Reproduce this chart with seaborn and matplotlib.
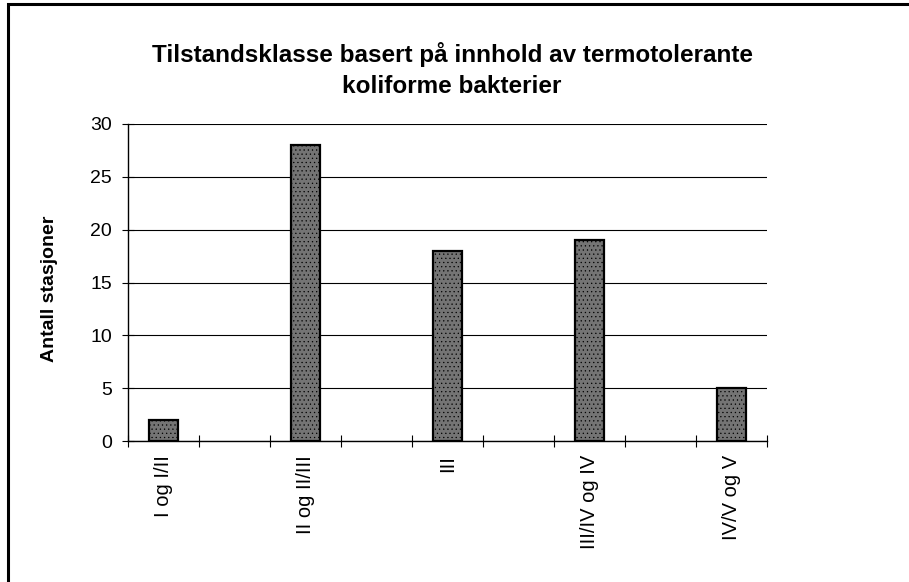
import matplotlib
matplotlib.use("Agg")
import matplotlib.pyplot as plt
import seaborn as sns
import pandas as pd
import numpy as np
from matplotlib.patches import Rectangle

categories = ["I og I/II", "II og II/III", "III", "III/IV og IV", "IV/V og V"]
values = [2, 28, 18, 19, 5]
title = "Tilstandsklasse basert på innhold av termotolerante\nkoliforme bakterier"
ylabel = "Antall stasjoner"
yticks = [0, 5, 10, 15, 20, 25, 30]

sns.set_theme(style="white")
plt.rcParams['font.family'] = ['Liberation Sans', 'DejaVu Sans']
plt.rcParams['hatch.color'] = '#4a4a4a'
plt.rcParams['hatch.linewidth'] = 0.4

# 9 category slots: empty slots between labelled ones
order = []
for i, c in enumerate(categories):
    order.append(c)
    if i < len(categories) - 1:
        order.append(" " * (i + 1))
labels = [c if c.strip() else "" for c in order]

df = pd.DataFrame({"kat": categories, "antall": values})

fig = plt.figure(figsize=(9.09, 5.82), dpi=100)
ax = fig.add_axes([128/909, 1-441/582, (767-128)/909, (441-124)/582])

sns.barplot(data=df, x="kat", y="antall", order=order, ax=ax,
            color="#747474", edgecolor="black", linewidth=1.6, width=0.41,
            saturation=1)
for p in ax.patches:
    p.set_hatch("....")

ax.set_ylim(0, 30)
ax.set_xlim(-0.5, len(order) - 0.5)
ax.set_yticks(yticks)
ax.set_yticklabels([str(v) for v in yticks], fontsize=14, color="black")
ax.set_xticks(range(len(order)))
ax.set_xticklabels(labels, rotation=90, fontsize=14.5, color="black")
ax.set_xticks(np.arange(-0.5, len(order), 1.0), minor=True)
ax.tick_params(axis="x", which="major", length=0, pad=10)
ax.tick_params(axis="x", which="minor", length=9, width=0.8, direction="inout", color="black", bottom=True)
ax.tick_params(axis="y", which="major", length=9, width=0.8, direction="inout", color="black", left=True, pad=7)

ax.yaxis.grid(True, color="black", linewidth=0.8)
ax.xaxis.grid(False)
ax.set_axisbelow(True)
for s in ["top", "right"]:
    ax.spines[s].set_visible(False)
for s in ["left", "bottom"]:
    ax.spines[s].set_visible(True)
    ax.spines[s].set_color("black")
    ax.spines[s].set_linewidth(1.0)

ax.set_xlabel("")
ax.set_ylabel(ylabel, fontsize=14, fontweight="bold", color="black")
ax.yaxis.set_label_coords(-(128-58)/639, 0.48)

fig.text(452/909, 1-70/582, title, ha="center", va="center", fontsize=17.5,
         fontweight="bold", linespacing=1.4, color="black")

# outer chart frame
fig.patches.append(Rectangle((8/909, -0.05), 1.1, 1 - 4/582 + 0.05, transform=fig.transFigure,
                             fill=False, edgecolor="black", linewidth=2.2))

fig.savefig("out.png", dpi=100, facecolor="white")
